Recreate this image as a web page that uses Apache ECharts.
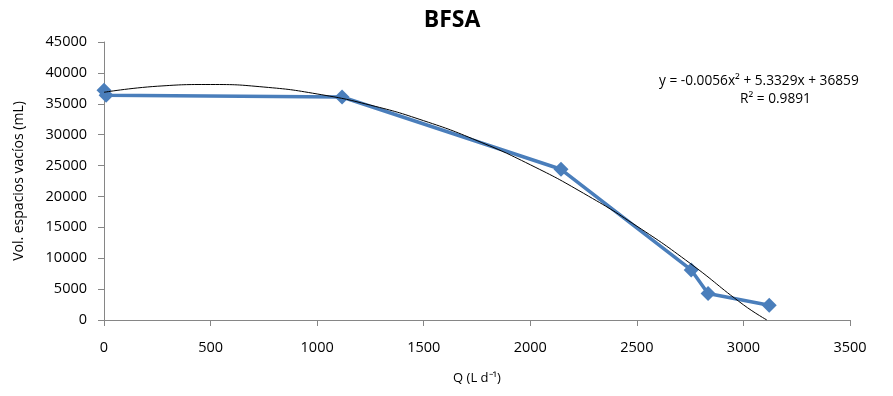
<!DOCTYPE html>
<html><head><meta charset="utf-8">
<script src="https://cdn.jsdelivr.net/npm/echarts@6/dist/echarts.min.js"></script>
<style>html,body{margin:0;padding:0;background:#fff}#c{width:893px;height:396px}</style>
</head><body><div id="c"></div>
<script>
const qValues = [0, 10, 1117, 2144, 2755, 2834, 3121];
const volValues = [37200, 36400, 36100, 24400, 8100, 4300, 2400];
const trendQ = [0, 250, 500, 750, 1000, 1250, 1500, 1750, 2000, 2250, 2500, 2750, 3000, 3110];
const trendVol = [36860, 37840, 38120, 37710, 36590, 34780, 32260, 29040, 25130, 20510, 15190, 9170, 2460, 0];
const xTicks = [0, 500, 1000, 1500, 2000, 2500, 3000, 3500];
const yTicks = [0, 5000, 10000, 15000, 20000, 25000, 30000, 35000, 40000, 45000];

const font = 'Open Sans';
const chart = echarts.init(document.getElementById('c'));
chart.setOption({
  animation: false,
  title: { text: 'BFSA', left: 447, top: 4, textAlign: 'center',
    textStyle: { fontFamily: font, fontWeight: 'bold', fontSize: 23, color: '#000' } },
  grid: { left: 104, right: 43, top: 42, bottom: 76 },
  xAxis: {
    type: 'value', min: xTicks[0], max: xTicks[xTicks.length-1], interval: 500,
    name: 'Q (L d⁻¹)', nameLocation: 'middle', nameGap: 52,
    nameTextStyle: { fontFamily: font, fontSize: 13, color: '#000' },
    axisLine: { lineStyle: { color: '#868686' } },
    axisTick: { show: true, length: 6, lineStyle: { color: '#868686' } },
    axisLabel: { fontFamily: font, fontSize: 14.5, color: '#000', margin: 20, formatter: v => String(v) },
    splitLine: { show: false }
  },
  yAxis: {
    type: 'value', min: yTicks[0], max: yTicks[yTicks.length-1], interval: 5000,
    name: 'Vol. espacios vacíos (mL)', nameLocation: 'middle', nameGap: 78,
    nameTextStyle: { fontFamily: font, fontSize: 14, color: '#000' },
    axisLine: { show: true, lineStyle: { color: '#868686' } },
    axisTick: { show: true, length: 6, lineStyle: { color: '#868686' } },
    axisLabel: { fontFamily: font, fontSize: 14.5, color: '#000', margin: 17, formatter: v => String(v) },
    splitLine: { show: false }
  },
  graphic: [
    { type: 'text', left: 659, top: 74, style: { text: 'y = -0.0056x² + 5.3329x + 36859', fontFamily: font, fontSize: 13.7, fill: '#000' } },
    { type: 'text', left: 740, top: 92, style: { text: 'R² = 0.9891', fontFamily: font, fontSize: 13.7, fill: '#000' } }
  ],
  series: [
    { type: 'line', data: trendQ.map((q,i)=>[q, trendVol[i]]), smooth: true, symbol: 'none',
      lineStyle: { color: '#000', width: 1 }, z: 3 },
    { type: 'line', data: qValues.map((q,i)=>[q, volValues[i]]), symbol: 'diamond', symbolSize: 15,
      lineStyle: { color: '#4a7ebb', width: 3.5 }, itemStyle: { color: '#4a7ebb' }, z: 2 }
  ]
});
</script></body></html>
